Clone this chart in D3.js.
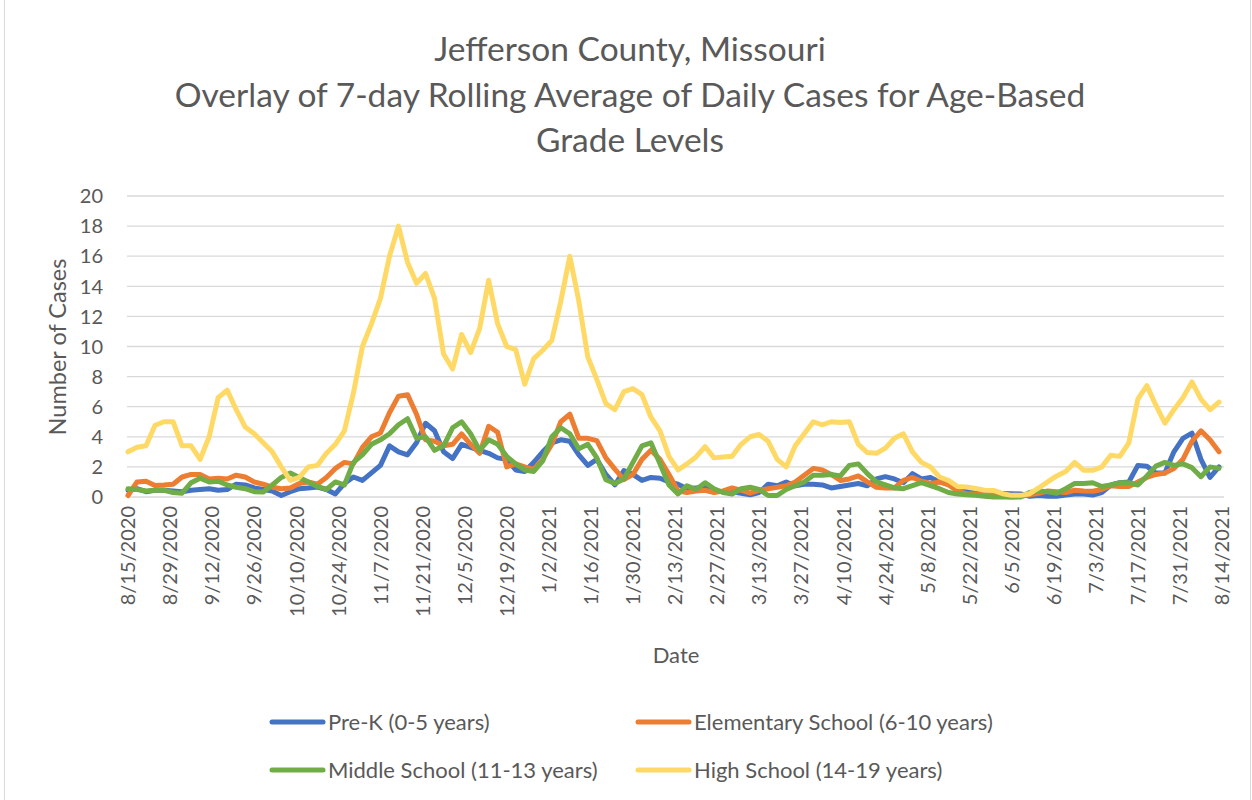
<!DOCTYPE html>
<html lang="en">
  <head>
    <meta charset="utf-8">
    <title>Jefferson County, Missouri</title>
    <script src="https://d3js.org/d3.v7.min.js"></script>
    <style>
      body { margin: 0; background: #fff; }
      text { font-family: Lato, "Open Sans", sans-serif; fill: #595959; }
    </style>
  </head>
  <body>
    <div id="chart"></div>
    <script type="text/javascript">
      // samples every 3 days, 8/15/2020 .. 8/13/2021
      const preK = [
        0.45, 0.55, 0.35, 0.45, 0.45, 0.4, 0.35, 0.45, 0.5, 0.55,
        0.45, 0.5, 0.85, 0.8, 0.6, 0.5, 0.4, 0.1, 0.35, 0.55,
        0.6, 0.66, 0.5, 0.2, 0.9, 1.33, 1.1, 1.6, 2.1, 3.4,
        3.0, 2.8, 3.6, 4.9, 4.4, 3.0, 2.55, 3.5, 3.3, 3.1,
        2.9, 2.6, 2.5, 1.8, 1.7, 2.3, 3.0, 3.6, 3.8, 3.7,
        2.8, 2.1, 2.5, 1.5, 0.8, 1.75, 1.5, 1.1, 1.3, 1.25,
        1.0, 0.85, 0.55, 0.6, 0.65, 0.4, 0.35, 0.35, 0.25, 0.15,
        0.3, 0.85, 0.75, 1.0, 0.75, 0.85, 0.85, 0.8, 0.6, 0.7,
        0.8, 0.9, 0.75, 1.2, 1.35, 1.2, 0.95, 1.55, 1.2, 1.3,
        1.0, 0.9, 0.5, 0.4, 0.25, 0.22, 0.22, 0.23, 0.22, 0.2,
        0.05, 0.1, 0.05, 0.05, 0.13, 0.2, 0.2, 0.13, 0.3, 0.8,
        0.95, 1.0, 2.1, 2.05, 1.6, 1.6, 3.0, 3.9, 4.25, 2.5,
        1.3, 2.0
      ];
      const elementary = [
        0.1, 1.0, 1.05, 0.77, 0.8, 0.85, 1.33, 1.5, 1.5, 1.2,
        1.25, 1.2, 1.45, 1.33, 1.0, 0.85, 0.65, 0.55, 0.6, 0.9,
        1.0, 0.85, 1.3, 1.9, 2.3, 2.2, 3.3, 4.0, 4.25, 5.6,
        6.7, 6.8, 5.5, 3.8, 3.7, 3.4, 3.5, 4.2, 3.5, 2.9,
        4.7, 4.3, 2.0, 2.2, 2.0, 1.85, 2.5, 3.5, 5.0, 5.5,
        3.9, 3.9, 3.75, 2.6, 1.85, 1.15, 1.5, 2.5, 3.1, 2.5,
        1.5, 0.4, 0.3, 0.4, 0.45, 0.3, 0.4, 0.6, 0.45, 0.25,
        0.45, 0.55, 0.65, 0.75, 1.0, 1.45, 1.9, 1.8, 1.5, 1.1,
        1.2, 1.4, 1.0, 0.65, 0.6, 0.6, 1.1, 1.3, 1.05, 0.9,
        1.0, 0.8, 0.4, 0.2, 0.2, 0.13, 0.1, 0.05, 0.0, 0.05,
        0.15, 0.24, 0.4, 0.35, 0.3, 0.45, 0.4, 0.38, 0.5, 0.75,
        0.7, 0.7, 1.0, 1.3, 1.5, 1.6, 1.9, 2.5, 3.7, 4.4,
        3.8, 3.0
      ];
      const middle = [
        0.55, 0.5, 0.4, 0.45, 0.45, 0.3, 0.25, 0.95, 1.25, 1.0,
        1.05, 0.8, 0.65, 0.55, 0.35, 0.33, 0.8, 1.3, 1.6, 1.3,
        1.0, 0.7, 0.5, 1.0, 0.8, 2.3, 2.8, 3.5, 3.8, 4.2,
        4.8, 5.2, 3.9, 4.0, 3.1, 3.4, 4.6, 5.0, 4.2, 3.1,
        3.8, 3.5, 2.7, 2.2, 1.8, 1.7, 2.4, 4.0, 4.6, 4.2,
        3.2, 3.5, 2.6, 1.15, 0.9, 1.2, 2.3, 3.4, 3.6, 2.2,
        0.8, 0.2, 0.75, 0.5, 0.95, 0.55, 0.3, 0.2, 0.55, 0.65,
        0.5, 0.1, 0.1, 0.5, 0.75, 1.0, 1.45, 1.45, 1.5, 1.4,
        2.1, 2.2, 1.55, 1.0, 0.8, 0.6, 0.55, 0.75, 0.95, 0.75,
        0.55, 0.3, 0.2, 0.15, 0.12, 0.05, 0.0, 0.0, 0.0, 0.0,
        0.3, 0.4, 0.35, 0.25, 0.55, 0.9, 0.9, 0.95, 0.7, 0.8,
        0.95, 0.95, 0.8, 1.4, 2.05, 2.3, 2.1, 2.2, 1.95, 1.35,
        2.0, 1.9
      ];
      const high = [
        3.0, 3.3, 3.4, 4.77, 5.0, 5.0, 3.4, 3.4, 2.5, 4.0,
        6.6, 7.1, 5.8, 4.65, 4.2, 3.6, 3.0, 2.0, 1.1, 1.3,
        2.0, 2.1, 2.9, 3.5, 4.4, 6.9, 10.0, 11.5, 13.2, 16.0,
        18.0, 15.6, 14.2, 14.85, 13.2, 9.5, 8.5, 10.8, 9.6, 11.2,
        14.4, 11.5, 10.0, 9.8, 7.5, 9.2, 9.75, 10.4, 13.0, 16.0,
        13.0, 9.3, 7.8, 6.2, 5.8, 7.0, 7.2, 6.8, 5.3, 4.4,
        2.7, 1.8, 2.2, 2.66, 3.35, 2.6, 2.66, 2.7, 3.5, 4.0,
        4.15, 3.7, 2.5, 2.0, 3.4, 4.2, 5.0, 4.8, 5.0, 4.95,
        5.0, 3.5, 2.95, 2.9, 3.25, 3.9, 4.2, 3.0, 2.3, 2.0,
        1.33, 1.1, 0.7, 0.66, 0.57, 0.45, 0.44, 0.22, 0.11, 0.11,
        0.22, 0.6, 1.0, 1.4, 1.7, 2.3, 1.77, 1.77, 2.0, 2.77,
        2.7, 3.6, 6.5, 7.4, 6.1, 4.9, 5.8, 6.6, 7.65, 6.5,
        5.8, 6.3
      ];
      const seriesNames = ["Pre-K (0-5 years)", "Elementary School (6-10 years)",
                           "Middle School (11-13 years)", "High School (14-19 years)"];
      const seriesColors = ["#4472C4", "#ED7D31", "#70AD47", "#FFD966"];
      const tickLabels = ["8/15/2020", "8/29/2020", "9/12/2020", "9/26/2020", "10/10/2020",
        "10/24/2020", "11/7/2020", "11/21/2020", "12/5/2020", "12/19/2020", "1/2/2021",
        "1/16/2021", "1/30/2021", "2/13/2021", "2/27/2021", "3/13/2021", "3/27/2021",
        "4/10/2021", "4/24/2021", "5/8/2021", "5/22/2021", "6/5/2021", "6/19/2021",
        "7/3/2021", "7/17/2021", "7/31/2021", "8/14/2021"];
      const yTicks = [0, 2, 4, 6, 8, 10, 12, 14, 16, 18, 20];
      const titleLines = ["Jefferson County, Missouri",
        "Overlay of 7-day Rolling Average of Daily Cases for Age-Based", "Grade Levels"];

      const W = 1252, H = 800;
      const parse = d3.timeParse("%m/%d/%Y");
      const startDate = parse("8/15/2020"), endDate = parse("8/14/2021");
      const dates = d3.timeDay.range(startDate, endDate, 3);

      const svg = d3.select("#chart").append("svg")
          .attr("width", W)
          .attr("height", H);

      svg.append("rect")
          .attr("x", 4.5).attr("y", -10)
          .attr("width", 1246).attr("height", 900)
          .attr("fill", "#fff")
          .attr("stroke", "#D9D9D9");

      const x = d3.scaleTime()
          .domain([startDate, endDate])
          .range([128, 1222]);
      const y = d3.scaleLinear()
          .domain([0, 20])
          .range([497, 196]);

      // gridlines
      svg.append("g").selectAll("line")
          .data(yTicks)
          .join("line")
          .attr("x1", 127).attr("x2", 1224)
          .attr("y1", d => y(d)).attr("y2", d => y(d))
          .attr("stroke", "#D9D9D9")
          .attr("stroke-width", 1.3);

      svg.append("g").selectAll("text")
          .data(yTicks)
          .join("text")
          .attr("x", 103)
          .attr("y", d => y(d))
          .attr("dy", "0.36em")
          .attr("text-anchor", "end")
          .style("font-size", "20px")
          .text(d => d);

      svg.append("g").selectAll("text")
          .data(tickLabels)
          .join("text")
          .attr("transform", d => "translate(" + x(parse(d)) + ",506) rotate(-90)")
          .attr("dy", "0.36em")
          .attr("text-anchor", "end")
          .style("font-size", "20px")
          .text(d => d);

      // series
      const line = d3.line()
          .x((d, i) => x(dates[i]))
          .y(d => y(d));

      [preK, elementary, middle, high].forEach((s, k) => {
          svg.append("path")
              .datum(s)
              .attr("d", line)
              .attr("fill", "none")
              .attr("stroke", seriesColors[k])
              .attr("stroke-width", 5)
              .attr("stroke-linejoin", "round")
              .attr("stroke-linecap", "round");
      });

      // titles
      svg.append("g").selectAll("text")
          .data(titleLines)
          .join("text")
          .attr("x", 630)
          .attr("y", (d, i) => 61 + i * 45.5)
          .attr("text-anchor", "middle")
          .style("font-size", "33.5px")
          .text(d => d);

      svg.append("text")
          .attr("transform", "translate(66,347) rotate(-90)")
          .attr("text-anchor", "middle")
          .style("font-size", "23.5px")
          .text("Number of Cases");

      svg.append("text")
          .attr("x", 676)
          .attr("y", 663)
          .attr("text-anchor", "middle")
          .style("font-size", "22px")
          .text("Date");

      // legend
      const legendPos = [[270, 722], [636, 722], [270, 770], [636, 770]];
      const legend = svg.append("g").selectAll("g")
          .data(seriesNames)
          .join("g")
          .attr("transform", (d, i) => "translate(" + legendPos[i][0] + "," + legendPos[i][1] + ")");

      legend.append("line")
          .attr("x1", 2).attr("x2", 53)
          .attr("stroke", (d, i) => seriesColors[i])
          .attr("stroke-width", 5)
          .attr("stroke-linecap", "round");

      legend.append("text")
          .attr("x", 58)
          .attr("dy", "0.36em")
          .style("font-size", "22px")
          .text(d => d);
    </script>
  </body>
</html>
